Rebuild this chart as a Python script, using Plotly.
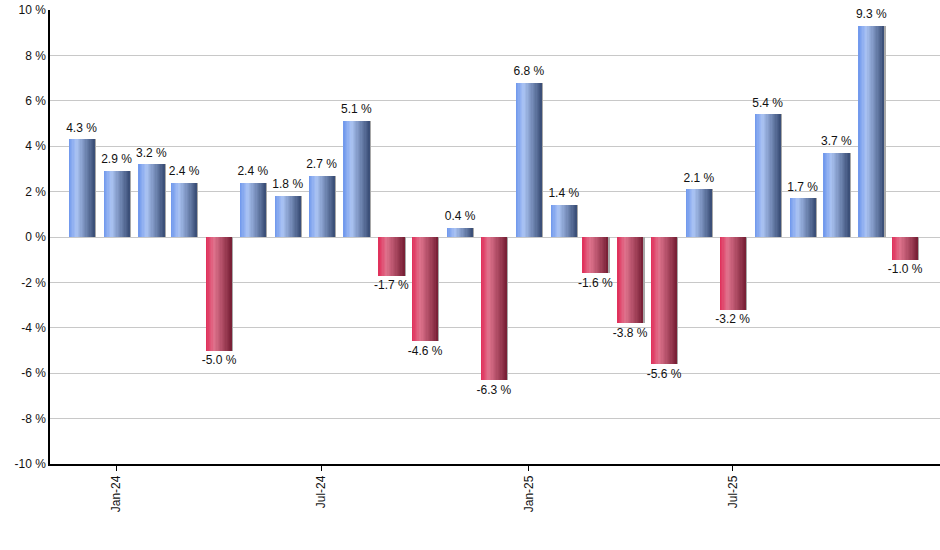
import plotly.graph_objects as go

months = ["2023-12-01", "2024-01-01", "2024-02-01", "2024-03-01", "2024-04-01",
          "2024-05-01", "2024-06-01", "2024-07-01", "2024-08-01", "2024-09-01",
          "2024-10-01", "2024-11-01", "2024-12-01", "2025-01-01", "2025-02-01",
          "2025-03-01", "2025-04-01", "2025-05-01", "2025-06-01", "2025-07-01",
          "2025-08-01", "2025-09-01", "2025-10-01", "2025-11-01", "2025-12-01"]
returns = [4.3, 2.9, 3.2, 2.4, -5.0, 2.4, 1.8, 2.7, 5.1, -1.7, -4.6, 0.4, -6.3,
           6.8, 1.4, -1.6, -3.8, -5.6, 2.1, -3.2, 5.4, 1.7, 3.7, 9.3, -1.0]
labels = [f"{v:.1f} %" for v in returns]
y_ticks = [10, 8, 6, 4, 2, 0, -2, -4, -6, -8, -10]
y_tick_text = [f"{v} %" for v in y_ticks]

DAY = 86400000
W = 23 * DAY
N = 20
s = W / N

BLUE = [(0x6e, 0x96, 0xec), (0xab, 0xc4, 0xf4), (0x38, 0x4c, 0x74)]
RED = [(0xe0, 0x2c, 0x58), (0xe0, 0x74, 0x8e), (0x76, 0x1e, 0x34)]


def grad(stops, t):
    a, b, c = stops
    if t < 0.3:
        u = t / 0.3
        p, q = a, b
    else:
        u = (t - 0.3) / 0.7
        p, q = b, c
    return "rgb(%d,%d,%d)" % tuple(round(p[i] + (q[i] - p[i]) * u) for i in range(3))


fig = go.Figure()

# thin shadow on the right side
fig.add_trace(go.Bar(x=months, y=returns, width=[1.6 * DAY] * len(months),
                     offset=W / 2 - 0.4 * DAY,
                     marker=dict(color="#a8a8a8", line=dict(width=0)),
                     hoverinfo="skip", showlegend=False))

for k in range(N):
    t = (k + 0.5) / N
    cols = [grad(BLUE if v >= 0 else RED, t) for v in returns]
    wk = 2 * s if k < N - 1 else s
    fig.add_trace(go.Bar(x=months, y=returns, width=[wk] * len(months),
                         offset=-W / 2 + k * s,
                         marker=dict(color=cols, line=dict(width=0)),
                         hoverinfo="skip", showlegend=False))

fig.add_trace(go.Scatter(
    x=months, y=returns, mode="markers+text", text=labels,
    marker=dict(size=6, opacity=0),
    textposition=["top center" if v >= 0 else "bottom center" for v in returns],
    textfont=dict(family="Liberation Sans, Arial, sans-serif", size=12, color="#111"),
    hoverinfo="skip", showlegend=False, cliponaxis=False))

fig.update_layout(
    width=940, height=550,
    margin=dict(l=50, r=0, t=10, b=86),
    paper_bgcolor="white", plot_bgcolor="white",
    barmode="overlay", bargap=0,
    font=dict(family="Liberation Sans, Arial, sans-serif", size=12, color="#111"),
    showlegend=False,
)
fig.update_xaxes(
    type="date", range=["2023-11-03", "2026-01-01"],
    tick0="2024-01-01", dtick="M6", tickformat="%b-%y", tickangle=-90,
    ticks="outside", ticklen=5, tickcolor="black",
    showline=True, linecolor="black", linewidth=1.5,
    showgrid=False, zeroline=False, automargin=False,
)
fig.update_yaxes(
    range=[-10, 10], tickvals=y_ticks, ticktext=y_tick_text,
    showline=True, linecolor="black", linewidth=1.5,
    showgrid=True, gridcolor="#c8c8c8", gridwidth=1,
    zeroline=True, zerolinecolor="#c8c8c8", zerolinewidth=1,
    ticks="", automargin=False,
)

fig.write_html("out.html",
               config={"displayModeBar": False},
               post_script="document.body.style.margin='0';document.body.style.overflow='hidden';")
